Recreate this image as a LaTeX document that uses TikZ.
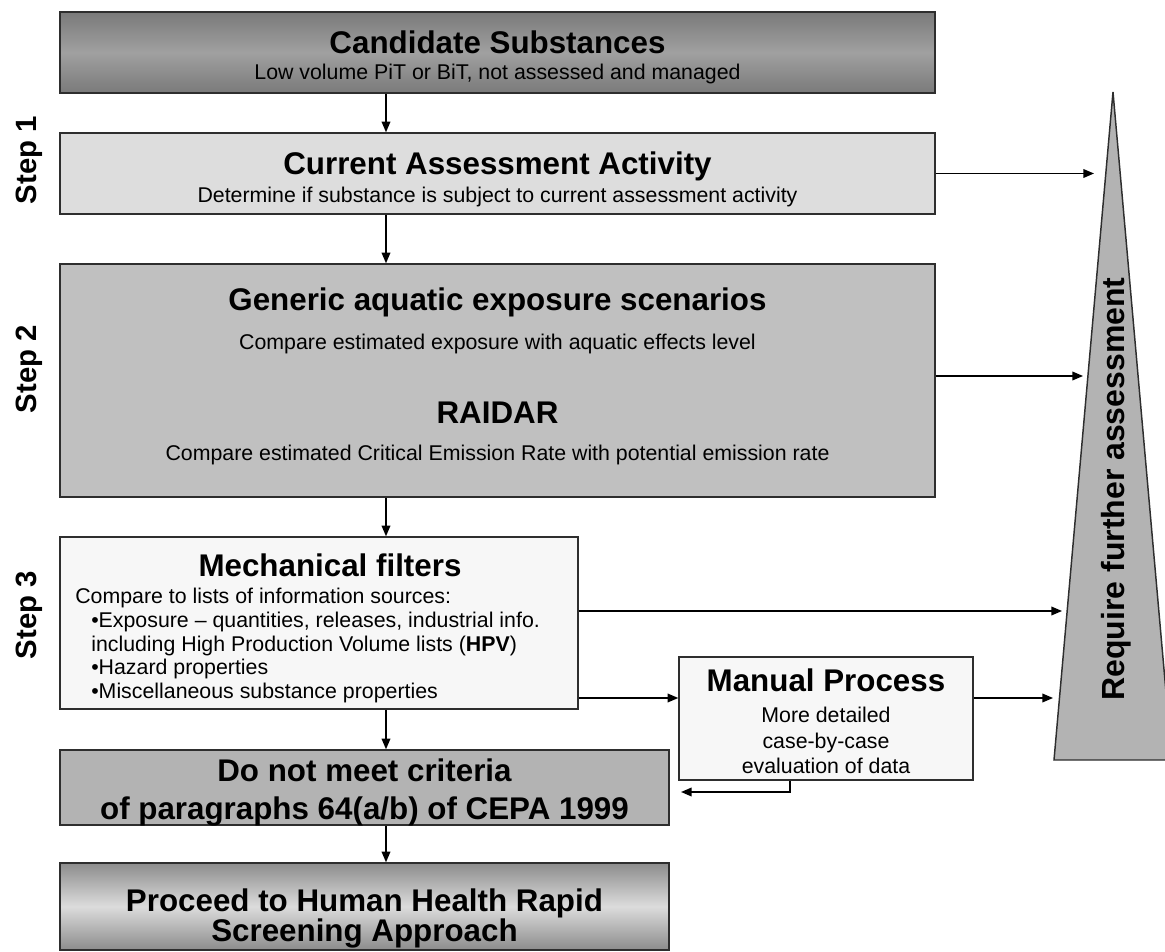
\documentclass[tikz,border=0pt]{standalone}
\usepackage{fontspec}
\setmainfont{Liberation Sans}
\usetikzlibrary{arrows.meta, positioning, calc}

\definecolor{boxline}{HTML}{2E2E2E}
\definecolor{darktop}{HTML}{7A7A7A}
\definecolor{darkmid}{HTML}{A0A0A0}
\definecolor{curfill}{HTML}{DDDDDD}
\definecolor{genfill}{HTML}{C0C0C0}
\definecolor{mechfill}{HTML}{F7F7F7}
\definecolor{critfill}{HTML}{B3B3B3}
\definecolor{proctop}{HTML}{8C8C8C}
\definecolor{procmid}{HTML}{DCDCDC}
\definecolor{trifill}{HTML}{B3B3B3}

\begin{document}
\begin{tikzpicture}[x=0.75pt, y=-0.75pt,
    stage/.style={rectangle, draw=boxline, line width=1.1pt, inner sep=0pt},
    ttl/.style={font=\fontsize{23.5}{28}\selectfont\bfseries, inner sep=0pt, anchor=base},
    txt/.style={font=\fontsize{16}{19}\selectfont, inner sep=0pt, anchor=base},
    steplbl/.style={font=\fontsize{22}{24}\selectfont\bfseries, rotate=90, inner sep=0pt},
    arrow/.style={-{Triangle[length=8pt, width=6.5pt]}, line width=1.1pt, black}
  ]
  \useasboundingbox (0,0) rectangle (1165,952);

  % Stage boxes
  \node[stage, top color=darktop, bottom color=darktop, middle color=darkmid,
    minimum width=656.25pt, minimum height=60.75pt] (cand) at (497.5,52.5) {};
  \node[stage, fill=curfill, minimum width=656.25pt, minimum height=60.75pt] (cur) at (497.5,173.5) {};
  \node[stage, fill=genfill, minimum width=656.25pt, minimum height=174.75pt] (gen) at (497.5,380.5) {};
  \node[stage, fill=mechfill, minimum width=388.5pt, minimum height=129pt] (mech) at (319,623) {};
  \node[stage, fill=mechfill, minimum width=220.5pt, minimum height=92.25pt] (man) at (826,718.5) {};
  \node[stage, fill=critfill, minimum width=456.75pt, minimum height=56.25pt] (crit) at (364.5,787.5) {};
  \node[stage, top color=proctop, bottom color=proctop, middle color=procmid,
    minimum width=456.75pt, minimum height=65.25pt] (proc) at (364.5,906.5) {};

  % Texts
  \node[ttl] (candT) at (497.5,54) {Candidate Substances};
  \node[txt] (candS) at (497.5,79.5) {Low volume PiT or BiT, not assessed and managed};
  \node[ttl] (curT) at (497.5,174.5) {Current Assessment Activity};
  \node[txt] (curS) at (497.5,202.5) {Determine if substance is subject to current assessment activity};
  \node[ttl] (genT) at (497.5,311) {Generic aquatic exposure scenarios};
  \node[txt] (genS) at (497.5,349.5) {Compare estimated exposure with aquatic effects level};
  \node[ttl] (raiT) at (497.5,423.5) {RAIDAR};
  \node[txt] (raiS) at (497.5,460.5) {Compare estimated Critical Emission Rate with potential emission rate};
  \node[ttl] (mechT) at (330,576) {Mechanical filters};
  \node[txt, anchor=north west, align=left, font=\fontsize{16}{17.8}\selectfont] (mechS) at (75,588)
    {Compare to lists of information sources:\\
     \hspace*{12pt}\textbullet Exposure -- quantities, releases, industrial info.\\
     \hspace*{12pt}including High Production Volume lists (\textbf{HPV})\\
     \hspace*{12pt}\textbullet Hazard properties\\
     \hspace*{12pt}\textbullet Miscellaneous substance properties};
  \node[ttl] (manT) at (826,691) {Manual Process};
  \node[txt, anchor=north, align=center, font=\fontsize{16}{19}\selectfont] (manS) at (826,707)
    {More detailed\\case-by-case\\evaluation of data};
  \node[ttl] (critT) at (364.5,781) {Do not meet criteria};
  \node[ttl] (critS) at (364.5,819) {of paragraphs 64(a/b) of CEPA 1999};
  \node[ttl] (procT) at (364.5,911) {Proceed to Human Health Rapid};
  \node[ttl] (procS) at (364.5,941) {Screening Approach};

  % Step labels
  \node[steplbl] (step1) at (29,160) {Step 1};
  \node[steplbl] (step2) at (29,369) {Step 2};
  \node[steplbl] (step3) at (29,615) {Step 3};

  % Require further assessment wedge
  \draw[draw=boxline, fill=trifill, line width=1.1pt] (1113,92) -- (1172,760) -- (1054,760) -- cycle;
  \node[font=\fontsize{24}{28}\selectfont\bfseries, rotate=90, inner sep=0pt] (req) at (1116,489)
    {Require further assessment};

  % Named points
  \coordinate (spine) at (386,0);
  \coordinate (fb) at (790,0);
  \coordinate (fbend) at (681,792);
  \coordinate (tipA) at (1094,173.5);
  \coordinate (tipB) at (1083,376);
  \coordinate (tipC) at (1062,611);
  \coordinate (tipD) at (1053,698);

  % Main flow
  \draw[arrow] (cand.south -| spine) -- (cur.north -| spine);
  \draw[arrow] (cur.south -| spine) -- (gen.north -| spine);
  \draw[arrow] (gen.south -| spine) -- (mech.north -| spine);
  \draw[arrow] (mech.south -| spine) -- (crit.north -| spine);
  \draw[arrow] (crit.south -| spine) -- (proc.north -| spine);

  % To further assessment
  \draw[arrow] (cur.east) -- (tipA);
  \draw[arrow] (gen.east |- tipB) -- (tipB);
  \draw[arrow] (mech.east |- tipC) -- (tipC);
  \draw[arrow] (mech.east |- tipD) -- (man.west |- tipD);
  \draw[arrow] (man.east |- tipD) -- (tipD);

  % Back from manual process
  \draw[arrow] (man.south -| fb) |- (fbend);
\end{tikzpicture}
\end{document}
